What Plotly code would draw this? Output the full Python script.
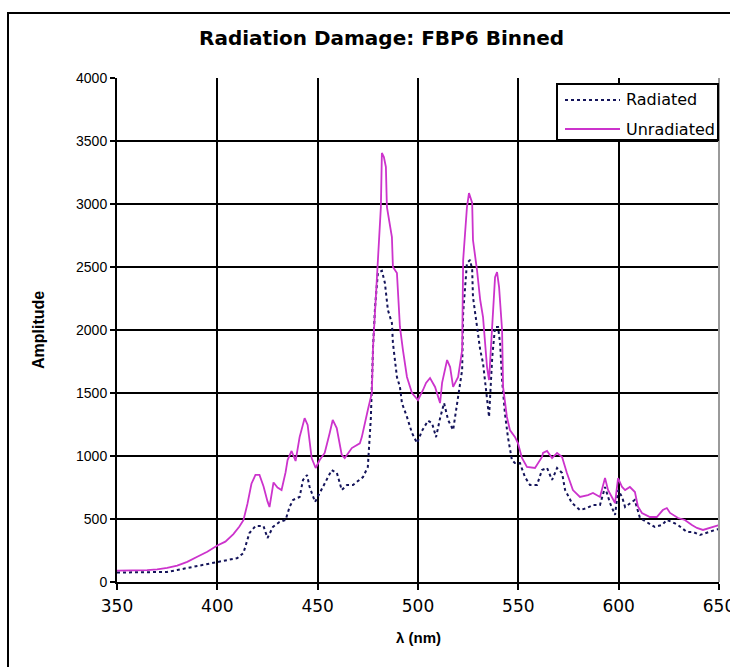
import plotly.graph_objects as go

# ---------------- data ----------------
wl_unrad = [350, 355, 360, 365, 370, 375, 380, 385, 390, 395, 400, 404, 408, 411, 413, 415, 417, 419, 421, 423,
            425, 426, 428, 430, 432, 434, 435, 437, 439, 441, 443.5, 445, 447, 449, 451, 453.5, 456, 457.5, 459.5,
            462, 463.5, 467, 471, 472, 475, 477, 477.6, 479.6, 480.5, 481.5, 482, 483, 484, 484.5, 487, 487.5,
            489.5, 491, 492.5, 494.5, 497, 500, 502.5, 504, 506, 508.5, 511, 512, 514.5, 516, 517.5, 520, 522,
            522.5, 524.4, 525.4, 527, 527.4, 529.4, 531, 532.4, 534.4, 535.4, 537, 538.4, 539.4, 540.4, 541.9,
            542.4, 544.3, 545.8, 548.3, 549.8, 551.8, 554.3, 558.3, 561.8, 562.3, 564.3, 566.8, 569.3, 571.8,
            574.2, 577.2, 580.7, 584.7, 587.2, 590.7, 593.2, 594.7, 596.7, 598.2, 599.7, 601.7, 603.2, 605.6,
            608.1, 609.6, 611.6, 615.6, 619, 622, 624, 625.6, 629.6, 633, 636.5, 639, 642, 645.5, 648, 650]
amp_unrad = [90, 90, 92, 95, 100, 112, 130, 160, 200, 240, 290, 320, 380, 440, 490, 620, 780, 850, 850, 760,
             640, 595, 790, 750, 730, 870, 968, 1040, 960, 1150, 1300, 1246, 984, 905, 968, 1024, 1183, 1286, 1222,
             1008, 984, 1063, 1100, 1150, 1365, 1500, 1865, 2476, 2770, 2976, 3405, 3373, 3294, 2976, 2738, 2500,
             2452, 2024, 1841, 1627, 1500, 1444, 1524, 1580, 1619, 1548, 1420, 1580, 1762, 1706, 1548, 1627, 1841,
             2555, 2976, 3087, 3008, 2714, 2476, 2238, 2103, 1706, 1603, 2024, 2420, 2460, 2341, 2000,
             1548, 1310, 1206, 1151, 1103, 984, 913, 905, 992, 1024, 1040, 984, 1024, 992,
             865, 730, 675, 690, 706, 675, 825, 730, 667, 627, 825, 754, 730, 754,
             714, 600, 548, 516, 516, 571, 587, 548, 508, 492, 452, 429, 413, 429, 437, 452]

wl_rad = [350, 360, 370, 375, 380, 385, 390, 395, 400, 405, 410, 413, 416, 419, 423, 425, 427.7, 431, 434, 436,
          437.7, 441, 442.7, 444.7, 446, 448.7, 451, 453.7, 457, 459.6, 462, 464.6, 467.6, 472.6, 475, 476.5,
          477.6, 478.6, 480, 482, 483.5, 485, 487, 487.5, 489.5, 491, 492, 494.5, 497, 499.5, 502, 505, 507,
          509, 511, 513, 515, 517.5, 520, 522, 522.5, 524.4, 526, 527, 527.4, 529.4, 531, 532.4, 534.4, 535.4,
          537, 538.4, 539.9, 540.9, 541.9, 543.3, 544.8, 546.8, 548.3, 550.8, 553.3, 555.8, 559.3, 561.8, 564.3,
          566.8, 569.3, 571.8, 573.3, 576.7, 580.7, 584.2, 587.2, 590.7, 593.2, 595.7, 598.2, 599.7, 601.7,
          603.2, 606.6, 608, 610.6, 614, 618, 621.6, 624, 626.6, 629.6, 634, 637, 640.5, 644.5, 648, 650]
amp_rad = [75, 78, 80, 80, 95, 110, 130, 145, 160, 170, 190, 230, 389, 444, 444, 349, 437, 476, 492, 595,
           651, 675, 810, 849, 754, 635, 706, 786, 889, 865, 730, 770, 770, 833, 913, 1300,
           1865, 2183, 2452, 2470, 2373, 2159, 2056, 1897, 1627, 1548, 1420, 1310, 1183, 1103, 1200, 1280, 1260,
           1150, 1300, 1420, 1286, 1206, 1468, 1683, 2135, 2532, 2555, 2476, 2262, 2024, 1841, 1738, 1444, 1310,
           1786, 2024, 2024, 1897, 1603, 1341, 1151, 968, 944, 944, 833, 770, 770, 889, 905,
           810, 905, 865, 730, 627, 571, 587, 611, 611, 754, 627, 532, 730, 675,
           595, 635, 651, 508, 476, 437, 452, 492, 476, 452, 397, 397, 373, 397, 413, 420]

x_ticks = [350, 400, 450, 500, 550, 600, 650]
y_ticks = [0, 500, 1000, 1500, 2000, 2500, 3000, 3500, 4000]

series_names = ["Radiated", "Unradiated"]
series_colors = ["#14145a", "#CC33CC"]
series_dash = ["3px,3px", "solid"]
series_width = [2, 1.8]

title_text = "Radiation Damage: FBP6 Binned"
x_title = "λ (nm)"
y_title = "Amplitude"

# ---------------- geometry (screen pixels, body margin removed) ----------------
W, H = 730, 667
PLOT_L, PLOT_R, PLOT_T, PLOT_B = 117, 719, 78, 582
L, R, T, B = PLOT_L, W - PLOT_R, PLOT_T, H - PLOT_B
pw, ph = PLOT_R - PLOT_L, PLOT_B - PLOT_T


def sx(p):
    return (p - PLOT_L) / pw


def sy(p):
    return (PLOT_B - p) / ph


fig = go.Figure()
fig.add_trace(go.Scatter(
    x=wl_rad, y=amp_rad, mode="lines", name=series_names[0], showlegend=False,
    line=dict(color=series_colors[0], width=series_width[0], dash=series_dash[0])))
fig.add_trace(go.Scatter(
    x=wl_unrad, y=amp_unrad, mode="lines", name=series_names[1], showlegend=False,
    line=dict(color=series_colors[1], width=series_width[1], dash=series_dash[1])))

leg_rows = [100, 129]
shapes = [
    dict(type="line", xref="paper", yref="paper", x0=1, x1=1, y0=0, y1=1,
         line=dict(color="#9a9a9a", width=2), layer="above"),
    dict(type="rect", xref="paper", yref="paper", x0=sx(8), x1=sx(760), y0=sy(700), y1=sy(13),
         line=dict(color="black", width=2), fillcolor="rgba(0,0,0,0)", layer="below"),
    dict(type="rect", xref="paper", yref="paper", x0=sx(557), x1=sx(718), y0=sy(140), y1=sy(84),
         line=dict(color="black", width=2), fillcolor="white", layer="above"),
]
annotations = [
    dict(text="<b>%s</b>" % title_text, x=sx(381), y=sy(38), xref="paper", yref="paper",
         xanchor="center", yanchor="middle", showarrow=False,
         font=dict(family="DejaVu Sans", size=20, color="black")),
    dict(text="<b>%s</b>" % y_title, x=sx(38), y=0.5, xref="paper", yref="paper",
         xanchor="center", yanchor="middle", showarrow=False, textangle=-90,
         font=dict(family="Liberation Sans", size=16, color="black")),
    dict(text="<b>%s</b>" % x_title, x=sx(418), y=sy(637), xref="paper", yref="paper",
         xanchor="center", yanchor="middle", showarrow=False,
         font=dict(family="Liberation Sans", size=15, color="black")),
]
for i, name in enumerate(series_names):
    shapes.append(dict(type="line", xref="paper", yref="paper", x0=sx(565), x1=sx(620),
                       y0=sy(leg_rows[i]), y1=sy(leg_rows[i]), layer="above",
                       line=dict(color=series_colors[i], width=series_width[i],
                                 dash=series_dash[i])))
    annotations.append(dict(text=name, x=sx(624), y=sy(leg_rows[i]), xref="paper", yref="paper",
                            xanchor="left", yanchor="middle", showarrow=False,
                            font=dict(family="DejaVu Sans", size=16, color="black")))

fig.update_layout(
    width=W, height=H, autosize=False,
    margin=dict(l=L, r=R, t=T, b=B, pad=0, autoexpand=False),
    paper_bgcolor="white", plot_bgcolor="white",
    showlegend=False,
    xaxis=dict(range=[350, 650], tickvals=x_ticks, ticktext=[str(v) for v in x_ticks],
               automargin=False,
               showgrid=True, gridcolor="black", gridwidth=2,
               showline=True, linecolor="black", linewidth=2,
               ticks="outside", ticklen=6, tickwidth=2, tickcolor="black",
               ticklabeloverflow="allow", ticklabelstandoff=2,
               tickfont=dict(family="DejaVu Sans", size=17, color="black"),
               zeroline=False, fixedrange=True),
    yaxis=dict(range=[0, 4000], tickvals=y_ticks, ticktext=[str(v) for v in y_ticks],
               automargin=False,
               showgrid=True, gridcolor="black", gridwidth=2,
               showline=True, linecolor="black", linewidth=2,
               ticks="outside", ticklen=5, tickwidth=2, tickcolor="black",
               tickfont=dict(family="Liberation Sans", size=14, color="black"),
               zeroline=False, fixedrange=True),
    annotations=annotations,
    shapes=shapes,
)

fig.write_html(
    "out.html",
    config={"responsive": False, "displayModeBar": False},
    post_script="document.body.style.margin='0';document.body.style.overflow='hidden';",
)
